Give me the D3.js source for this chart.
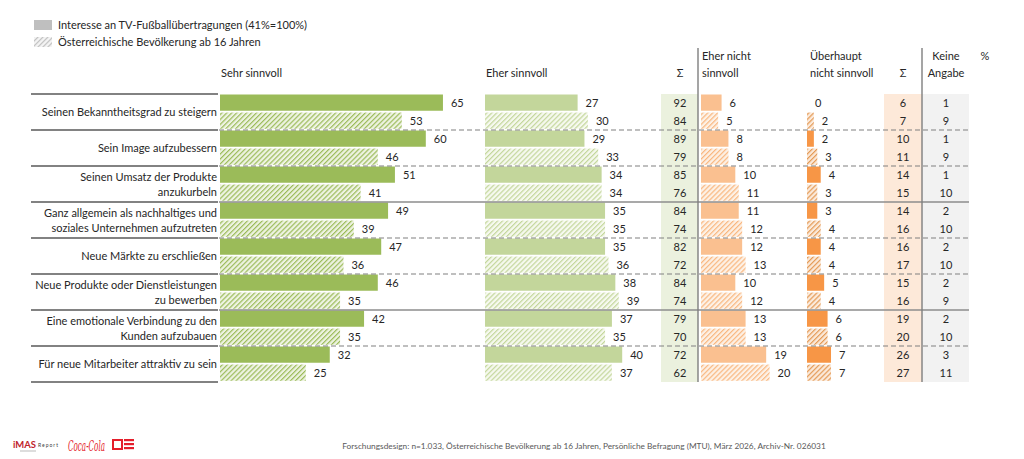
<!DOCTYPE html>
<html>
<head>
<meta charset="utf-8">
<script src="https://cdn.jsdelivr.net/npm/d3@7"></script>
<style>
  body { margin: 0; background: #fff; }
  svg { font-family: Lato, 'Open Sans', sans-serif; }
</style>
</head>
<body>
<div id="chart"></div>
<script>
/* Data */
const rowLabels = [
  ['Seinen Bekanntheitsgrad zu steigern'],
  ['Sein Image aufzubessern'],
  ['Seinen Umsatz der Produkte', 'anzukurbeln'],
  ['Ganz allgemein als nachhaltiges und', 'soziales Unternehmen aufzutreten'],
  ['Neue Märkte zu erschließen'],
  ['Neue Produkte oder Dienstleistungen', 'zu bewerben'],
  ['Eine emotionale Verbindung zu den', 'Kunden aufzubauen'],
  ['Für neue Mitarbeiter attraktiv zu sein']
];
const seriesNames = ['Interesse an TV-Fußballübertragungen (41%=100%)', 'Österreichische Bevölkerung ab 16 Jahren'];

const sehrTv = [65, 60, 51, 49, 47, 46, 42, 32];
const sehrPop = [53, 46, 41, 39, 36, 35, 35, 25];
const eherTv = [27, 29, 34, 35, 35, 38, 37, 40];
const eherPop = [30, 33, 34, 35, 36, 39, 35, 37];
const sumPosTv = [92, 89, 85, 84, 82, 84, 79, 72];
const sumPosPop = [84, 79, 76, 74, 72, 74, 70, 62];
const eherNichtTv = [6, 8, 10, 11, 12, 10, 13, 19];
const eherNichtPop = [5, 8, 11, 12, 13, 12, 13, 20];
const ueberhauptTv = [0, 2, 4, 3, 4, 5, 6, 7];
const ueberhauptPop = [2, 3, 3, 4, 4, 4, 6, 7];
const sumNegTv = [6, 10, 14, 14, 16, 15, 19, 26];
const sumNegPop = [7, 11, 15, 16, 17, 16, 20, 27];
const keineTv = [1, 1, 1, 2, 2, 2, 2, 3];
const keinePop = [9, 9, 10, 10, 10, 9, 10, 11];

// separator after each group (except last): true = solid
const solidAfter = [false, false, true, false, false, true, false];

const footnote = 'Forschungsdesign: n=1.033, Österreichische Bevölkerung ab 16 Jahren, Persönliche Befragung (MTU), März 2026, Archiv-Nr. 026031';

/* Layout */
const W = 1024, H = 459;
const FONT = 11;
const TEXT = '#262626';

const svg = d3.select('#chart').append('svg').attr('width', W).attr('height', H);
const defs = svg.append('defs');

function hatch (id, stripe, bg) {
  const p = defs.append('pattern')
    .attr('id', id)
    .attr('patternUnits', 'userSpaceOnUse')
    .attr('width', 3.5).attr('height', 3.5)
    .attr('patternTransform', 'rotate(45)');
  p.append('rect').attr('width', 3.5).attr('height', 3.5).attr('fill', bg);
  p.append('rect').attr('width', 1.2).attr('height', 3.5).attr('fill', stripe);
}
hatch('h-dark', '#9bbb59', '#eef3e2');
hatch('h-light', '#c3d69b', '#f6f9ef');
hatch('h-orange', '#f9b77f', '#fdf1e6');
hatch('h-dorange', '#e49a55', '#fbeadb');
hatch('h-gray', '#bfbfbf', '#f5f5f5');

const x = d3.scaleLinear().domain([0, 100]).range([0, 343]);
const y = d3.scaleBand().domain(d3.range(rowLabels.length)).range([94, 382]);
const sub = d3.scaleBand().domain(['tv', 'pop']).range([0.5, 34.8]).paddingInner(0.1);

/* Legend */
const legend = svg.append('g');
[['#bfbfbf', seriesNames[0]], ['url(#h-gray)', seriesNames[1]]].forEach(([fill, name], i) => {
  legend.append('rect').attr('x', 34).attr('y', 20 + i * 17).attr('width', 18).attr('height', 10).attr('fill', fill);
  legend.append('text').attr('x', 58).attr('y', 29 + i * 17)
    .attr('font-size', FONT).attr('fill', TEXT).text(name);
});

/* Background columns */
const bgCols = [
  { x0: 661, x1: 698, fill: '#ebf1de' },
  { x0: 884, x1: 922, fill: '#fde9d9' },
  { x0: 922, x1: 969, fill: '#f2f2f2' }
];
bgCols.forEach(c => {
  svg.append('rect').attr('x', c.x0).attr('y', 94).attr('width', c.x1 - c.x0).attr('height', 288).attr('fill', c.fill);
});

/* Headers */
const headers = [
  { x: 221, lines: ['Sehr sinnvoll'], anchor: 'start' },
  { x: 486, lines: ['Eher sinnvoll'], anchor: 'start' },
  { x: 680, lines: ['Σ'], anchor: 'middle' },
  { x: 702, lines: ['Eher nicht', 'sinnvoll'], anchor: 'start' },
  { x: 810, lines: ['Überhaupt', 'nicht sinnvoll'], anchor: 'start' },
  { x: 903, lines: ['Σ'], anchor: 'middle' },
  { x: 946, lines: ['Keine', 'Angabe'], anchor: 'middle' },
  { x: 985, lines: ['%'], anchor: 'middle', top: true }
];
headers.forEach(h => {
  const n = h.lines.length;
  h.lines.forEach((t, i) => {
    const base = h.top ? 60 : 77 - (n - 1 - i) * 17;
    svg.append('text').attr('x', h.x).attr('y', base)
      .attr('text-anchor', h.anchor).attr('font-size', FONT).attr('fill', TEXT).text(t);
  });
});

/* Bar columns */
const barCols = [
  { x0: 220, tv: sehrTv, pop: sehrPop, solid: '#9bbb59', hatch: 'url(#h-dark)' },
  { x0: 485, tv: eherTv, pop: eherPop, solid: '#c3d69b', hatch: 'url(#h-light)' },
  { x0: 701, tv: eherNichtTv, pop: eherNichtPop, solid: '#fac090', hatch: 'url(#h-orange)' },
  { x0: 807, tv: ueberhauptTv, pop: ueberhauptPop, solid: '#f79646', hatch: 'url(#h-dorange)' }
];

barCols.forEach(col => {
  const g = svg.append('g').attr('transform', `translate(${col.x0},0)`);
  ['tv', 'pop'].forEach(key => {
    const vals = col[key];
    g.selectAll(`rect.${key}`)
      .data(vals)
      .enter()
      .append('rect')
      .attr('class', key)
      .attr('x', 0)
      .attr('y', (d, i) => y(i) + sub(key))
      .attr('width', d => x(d))
      .attr('height', sub.bandwidth())
      .attr('fill', key === 'tv' ? col.solid : col.hatch);

    g.selectAll(`text.${key}`)
      .data(vals)
      .enter()
      .append('text')
      .attr('class', key)
      .attr('x', d => x(d) + 8)
      .attr('y', (d, i) => y(i) + sub(key) + sub.bandwidth() / 2 + 4)
      .attr('font-size', FONT)
      .attr('fill', TEXT)
      .text(d => d);
  });
});

/* Number columns */
const numCols = [
  { cx: 680, tv: sumPosTv, pop: sumPosPop },
  { cx: 903, tv: sumNegTv, pop: sumNegPop },
  { cx: 946, tv: keineTv, pop: keinePop }
];
numCols.forEach(col => {
  ['tv', 'pop'].forEach(key => {
    svg.append('g').selectAll('text')
      .data(col[key])
      .enter()
      .append('text')
      .attr('x', col.cx)
      .attr('y', (d, i) => y(i) + sub(key) + sub.bandwidth() / 2 + 4)
      .attr('text-anchor', 'middle')
      .attr('font-size', FONT)
      .attr('fill', TEXT)
      .text(d => d);
  });
});

/* Separators */
const bounds = d3.range(rowLabels.length + 1).map(i => i < rowLabels.length ? y(i) : y.range()[1]);
bounds.forEach(b => {
  svg.append('line').attr('x1', 31).attr('x2', 218).attr('y1', b).attr('y2', b)
    .attr('stroke', '#595959').attr('stroke-width', 1.6);
});
solidAfter.forEach((solid, i) => {
  const b = bounds[i + 1];
  svg.append('line').attr('x1', 219).attr('x2', 969).attr('y1', b).attr('y2', b)
    .attr('stroke', solid ? '#8c8c8c' : '#808080')
    .attr('stroke-width', solid ? 1.4 : 1.2)
    .attr('stroke-dasharray', solid ? null : '5,3');
});

/* Vertical dividers */
[698, 922].forEach(vx => {
  svg.append('line').attr('x1', vx).attr('x2', vx).attr('y1', 48).attr('y2', 382)
    .attr('stroke', '#7f7f7f').attr('stroke-width', 1.4);
});

/* Row labels */
rowLabels.forEach((lines, i) => {
  const cy = y(i) + y.bandwidth() / 2;
  lines.forEach((t, j) => {
    const offset = lines.length === 1 ? 0 : (j === 0 ? -7 : 8);
    svg.append('text').attr('x', 217).attr('y', cy + offset + 4)
      .attr('text-anchor', 'end').attr('font-size', FONT).attr('fill', TEXT).text(t);
  });
});

/* Footer */
svg.append('text').attr('x', 584).attr('y', 449).attr('text-anchor', 'middle')
  .attr('font-size', 8.3).attr('fill', '#595959').text(footnote);

// logos (approximation)
const logo = svg.append('g');
logo.append('text').attr('x', 13).attr('y', 448).attr('font-size', 9).attr('font-weight', 'bold')
  .attr('textLength', 23).attr('lengthAdjust', 'spacingAndGlyphs')
  .attr('fill', '#c0232b').text('iMAS');
logo.append('text').attr('x', 38).attr('y', 447).attr('font-size', 5).attr('fill', '#404040')
  .attr('textLength', 20).text('Report');
logo.append('line').attr('x1', 20).attr('x2', 36).attr('y1', 451).attr('y2', 451).attr('stroke', '#bbb').attr('stroke-width', 1);
logo.append('text').attr('x', 68).attr('y', 451).attr('font-size', 14).attr('font-style', 'italic')
  .attr('textLength', 37).attr('lengthAdjust', 'spacingAndGlyphs')
  .attr('font-family', 'DejaVu Serif, serif').attr('fill', '#e41e2b').text('Coca‑Cola');
logo.append('rect').attr('x', 113).attr('y', 440).attr('width', 9).attr('height', 9).attr('fill', 'none')
  .attr('stroke', '#e41e2b').attr('stroke-width', 2);
logo.append('rect').attr('x', 124).attr('y', 439).attr('width', 10).attr('height', 2.2).attr('fill', '#e41e2b');
logo.append('rect').attr('x', 124).attr('y', 443).attr('width', 10).attr('height', 2.2).attr('fill', '#e41e2b');
logo.append('rect').attr('x', 124).attr('y', 447).attr('width', 10).attr('height', 2.2).attr('fill', '#e41e2b');
</script>
</body>
</html>
